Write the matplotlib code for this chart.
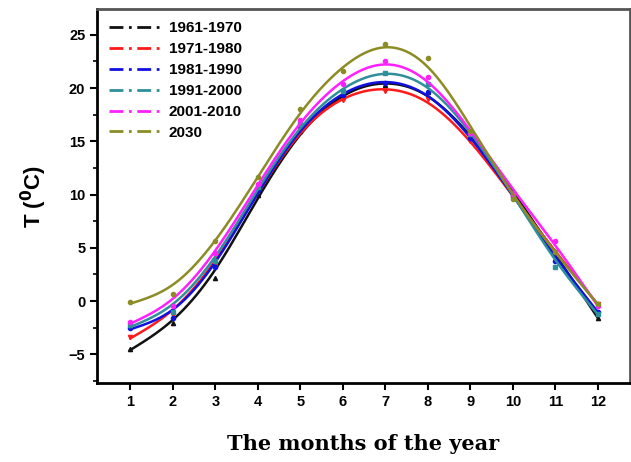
import numpy as np
import matplotlib
matplotlib.use('Agg')
import matplotlib.pyplot as plt
from matplotlib.lines import Line2D


months = [1, 2, 3, 4, 5, 6, 7, 8, 9, 10, 11, 12]

labels = ['1961-1970', '1971-1980', '1981-1990', '1991-2000', '2001-2010', '2030']

t_1961 = [-4.5, -2.1, 2.2, 10.0, 16.0, 19.2, 20.3, 19.6, 15.4, 10.2, 4.3, -1.6]
t_1971 = [-3.4, -1.3, 3.3, 10.3, 16.2, 18.9, 19.7, 19.0, 15.0, 9.6, 4.6, -0.3]
t_1981 = [-2.5, -1.6, 3.2, 10.4, 16.4, 19.3, 20.5, 19.6, 15.3, 9.9, 3.8, -1.0]
t_1991 = [-2.3, -1.0, 3.8, 10.7, 16.6, 19.7, 21.4, 20.4, 15.7, 10.1, 3.2, -1.2]
t_2001 = [-2.0, -0.5, 4.5, 11.0, 17.0, 20.4, 22.5, 21.0, 15.8, 10.0, 5.6, -0.5]
t_2030 = [-0.1, 0.7, 5.6, 11.6, 18.0, 21.6, 24.1, 22.8, 16.0, 9.6, 4.6, -0.3]

series = [t_1961, t_1971, t_1981, t_1991, t_2001, t_2030]
colors = ['#111111', '#ff1a1a', '#1010e0', '#2f8f9a', '#ff20ff', '#8c8c26']
mkstyle = ['^', 'v', 'o', 's', 'o', 'o']


def smooth(x, y, lam=1500.0, sub=20):
    # penalised smoothing curve on a fine grid (only for drawing the line)
    x = np.asarray(x, float)
    n = (len(x) - 1) * sub + 1
    xs = np.linspace(x[0], x[-1], n)
    w = np.zeros(n)
    z = np.zeros(n)
    w[::sub] = 1.0
    w[0] = w[-1] = 4.0
    z[::sub] = y
    D = np.diff(np.eye(n), 2, axis=0)
    f = np.linalg.solve(np.diag(w) + lam * D.T @ D, w * z)
    return xs, f


plt.rcParams['font.family'] = 'Liberation Sans'
plt.rcParams['font.weight'] = 'bold'

fig = plt.figure(figsize=(6.31, 4.62), dpi=100)
ax = fig.add_axes([0.154, 0.171, 0.844, 0.809])

for y, c, mk in zip(series, colors, mkstyle):
    xs, ys = smooth(months, y)
    ax.plot(xs, ys, color=c, linewidth=1.8)
    ax.plot(months, y, linestyle='None', marker=mk, color=c, markersize=3)

handles = [Line2D([0], [0], color=c, linewidth=2, linestyle=(0, (5, 2, 1, 2))) for c in colors]
ax.legend(handles, labels, loc='upper left', frameon=False, handlelength=3.6,
          labelspacing=0.45, borderaxespad=0.4, handletextpad=0.3,
          prop={'family': 'Liberation Sans', 'weight': 'bold', 'size': 11})

ax.set_xlim(0.22, 12.75)
ax.set_ylim(-7.7, 27.4)
ax.set_xticks(months)
ax.set_yticks([-5, 0, 5, 10, 15, 20, 25])
ax.set_yticks(np.arange(-7.5, 27.5, 2.5), minor=True)
ax.tick_params(axis='both', direction='out', width=1.5, length=5, labelsize=10.5)
ax.tick_params(axis='y', which='minor', direction='out', width=1.2, length=3)
for lab in ax.get_xticklabels() + ax.get_yticklabels():
    lab.set_fontweight('bold')
for s in ['left', 'bottom']:
    ax.spines[s].set_linewidth(2)
for s in ['top', 'right']:
    ax.spines[s].set_linewidth(2)
    ax.spines[s].set_color('#555555')

ax.set_ylabel(r'T ($^{\mathbf{0}}$C)', fontsize=16, fontweight='bold', labelpad=14)
ax.set_xlabel('The months of the year', fontsize=15, fontweight='bold',
              family='DejaVu Serif', labelpad=18)

fig.savefig('out.png', dpi=100)
